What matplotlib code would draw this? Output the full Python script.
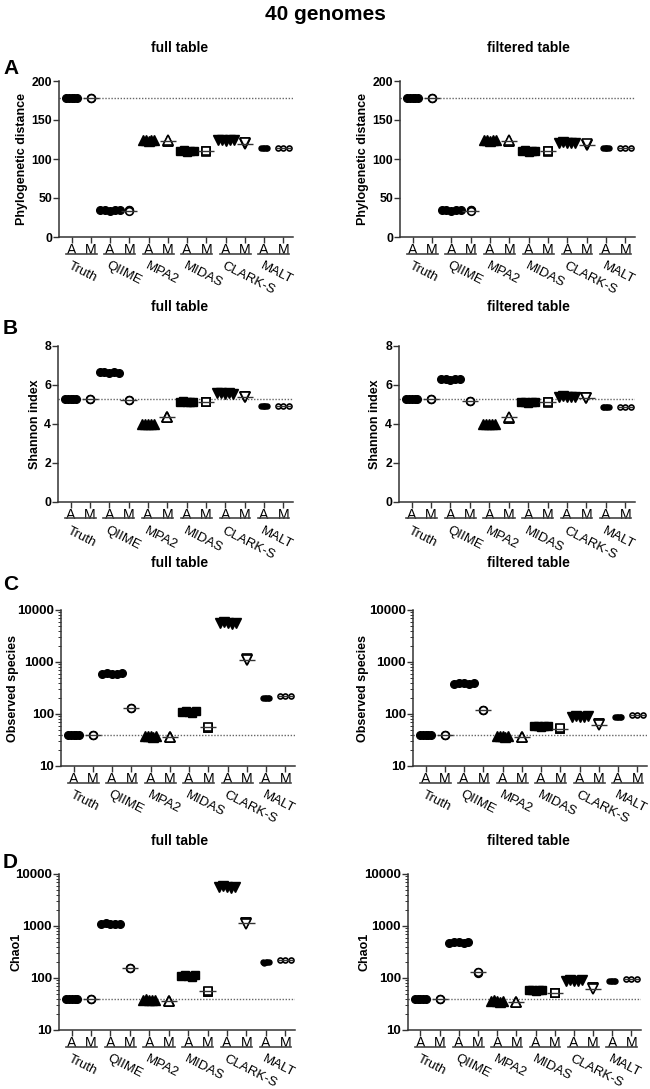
import numpy as np
import matplotlib
matplotlib.use("Agg")
import matplotlib.pyplot as plt
from matplotlib.transforms import ScaledTranslation
from matplotlib.ticker import FixedLocator, LogLocator, NullFormatter

plt.rcParams['font.family'] = ['Liberation Sans', 'DejaVu Sans']

groups = ["Truth", "QIIME", "MPA2", "MIDAS", "CLARK-S", "MALT"]
sub_labels = ["A", "M"]

# Phylogenetic distance (A = many samples, M = 3 samples)
pd_full_A = [[178, 178, 178, 178, 178], [34, 34, 33, 34, 34], [124, 125, 123, 124, 124],
             [110, 111, 109, 110, 110], [124, 125, 123, 124, 124], [114, 114, 114, 114, 114]]
pd_full_M = [[178, 178, 178], [34, 34, 33], [123, 123, 124], [110, 109, 110], [120, 119, 120], [114, 114, 114]]
pd_filt_A = [[178, 178, 178, 178, 178], [34, 34, 33, 34, 34], [124, 125, 123, 124, 124],
             [110, 111, 109, 110, 110], [121, 122, 120, 121, 121], [114, 114, 114, 114, 114]]
pd_filt_M = [[178, 178, 178], [34, 34, 33], [123, 123, 124], [110, 109, 110], [118, 118, 119], [114, 114, 114]]

# Shannon index
sh_full_A = [[5.3, 5.3, 5.3, 5.3, 5.3], [6.65, 6.68, 6.62, 6.66, 6.64], [3.99, 4.0, 3.98, 4.0, 3.99],
             [5.15, 5.16, 5.14, 5.15, 5.15], [5.57, 5.58, 5.55, 5.57, 5.56], [4.94, 4.94, 4.94, 4.94, 4.94]]
sh_full_M = [[5.3, 5.3, 5.3], [5.22, 5.22, 5.21], [4.35, 4.35, 4.36], [5.12, 5.11, 5.12], [5.4, 5.4, 5.41], [4.94, 4.94, 4.94]]
sh_filt_A = [[5.3, 5.3, 5.3, 5.3, 5.3], [6.3, 6.33, 6.28, 6.32, 6.3], [3.99, 4.0, 3.98, 4.0, 3.99],
             [5.11, 5.12, 5.1, 5.11, 5.11], [5.4, 5.42, 5.38, 5.41, 5.4], [4.88, 4.88, 4.88, 4.88, 4.88]]
sh_filt_M = [[5.3, 5.3, 5.3], [5.2, 5.2, 5.19], [4.33, 4.33, 4.34], [5.11, 5.1, 5.11], [5.33, 5.33, 5.34], [4.88, 4.88, 4.88]]

# Observed species
ob_full_A = [[40, 40, 40, 40, 40], [590, 620, 600, 580, 610], [37, 38, 37, 36, 37],
             [108, 115, 110, 105, 112], [5600, 5800, 5700, 5500, 5700], [202, 200, 204, 201, 203]]
ob_full_M = [[40, 40, 40], [132, 130, 133], [36, 36, 36], [55, 55, 56], [1100, 1120, 1090], [222, 220, 223]]
ob_filt_A = [[40, 40, 40, 40, 40], [385, 395, 390, 380, 392], [37, 38, 37, 36, 37],
             [58, 60, 57, 59, 58], [88, 90, 89, 87, 90], [87, 87, 87, 87, 87]]
ob_filt_M = [[40, 40, 40], [121, 120, 122], [36, 36, 36], [52, 52, 53], [63, 63, 62], [96, 96, 96]]

# Chao1
ch_full_A = [[40, 40, 40, 40, 40], [1080, 1120, 1100, 1090, 1110], [38, 39, 38, 37, 38],
             [107, 113, 110, 105, 112], [5600, 5800, 5700, 5500, 5700], [200, 198, 202, 199, 201]]
ch_full_M = [[40, 40, 40], [155, 153, 157], [36, 36, 36], [55, 55, 56], [1120, 1130, 1110], [220, 219, 221]]
ch_filt_A = [[40, 40, 40, 40, 40], [480, 500, 490, 470, 495], [36, 37, 36, 35, 36],
             [58, 60, 57, 59, 58], [88, 90, 89, 87, 90], [86, 86, 86, 86, 86]]
ch_filt_M = [[40, 40, 40], [128, 127, 129], [35, 35, 35], [51, 51, 52], [63, 63, 62], [95, 95, 95]]

W, H = 650, 1089
fig = plt.figure(figsize=(W / 100, H / 100), dpi=100)
dpi_tr = fig.dpi_scale_trans


def add_ax(left, top, right, bottom):
    return fig.add_axes([left / W, 1 - bottom / H, (right - left) / W, (bottom - top) / H])


markers = ['o', 'o', '^', 's', 'v', 'o']
msizes = [5.5, 5.5, 6.5, 6, 6.5, 3.6]
a_spread = [0.3, 0.5, 0.3, 0.35, 0.42, 0.15]
m_spread = [0, 0, 0, 0, 0, 0.27]


def panel(ax, A, M, ylabel, label_x, log=False, tick_fs=8.5):
    ref = np.mean(A[0])
    ax.axhline(ref, color='#666666', ls=(0, (1, 1.2)), lw=1, zorder=1)
    for i in range(len(groups)):
        xa, xm = 2 * i, 2 * i + 1
        va, vm = np.array(A[i], float), np.array(M[i], float)
        offs = np.linspace(-a_spread[i], a_spread[i], len(va))
        ax.hlines(va.mean(), xa - a_spread[i] - 0.1, xa + a_spread[i] + 0.1, color='#222222', lw=1, zorder=2)
        ax.plot(xa + offs, va, ls='none', marker=markers[i], ms=msizes[i],
                mfc='black', mec='black', zorder=3, clip_on=False)
        offm = np.linspace(-m_spread[i], m_spread[i], len(vm))
        ax.plot(xm + offm, vm, ls='none', marker=markers[i], ms=msizes[i],
                mfc='white', mec='black', mew=1.2, zorder=3, clip_on=False)
        ax.hlines(vm.mean(), xm - 0.42, xm + 0.42, color='#333333', lw=1, zorder=4)

    ax.set_xlim(-0.65, 11.5)
    if log:
        ax.set_yscale('log')
        ax.set_ylim(10, 10000)
        ax.yaxis.set_major_locator(FixedLocator([10, 100, 1000, 10000]))
        ax.set_yticklabels(["10", "100", "1000", "10000"])
        ax.yaxis.set_minor_locator(LogLocator(subs=np.arange(2, 10)))
        ax.yaxis.set_minor_formatter(NullFormatter())
    for s in ['top', 'right']:
        ax.spines[s].set_visible(False)
    for s in ['left', 'bottom']:
        ax.spines[s].set_linewidth(1.1)
        ax.spines[s].set_color('#333333')
    ax.tick_params(axis='both', which='major', direction='out', length=4, width=1, color='#333333')
    ax.tick_params(axis='y', which='minor', direction='out', length=2, width=0.7, color='#333333')
    ax.tick_params(axis='y', labelsize=tick_fs, pad=1)
    ax.set_ylabel(ylabel, fontsize=9, fontweight='bold')
    ax.yaxis.label.set_va('center')
    bb = ax.get_position()
    ax.yaxis.set_label_coords((label_x / W - bb.x0) / bb.width, 0.5)

    ax.set_xticks(range(2 * len(groups)))
    ax.set_xticklabels(sub_labels * len(groups), fontsize=10.2)
    ax.tick_params(axis='x', pad=0.5)
    line_tr = ax.get_xaxis_transform() + ScaledTranslation(0, -0.165, dpi_tr)
    text_tr = ax.get_xaxis_transform() + ScaledTranslation(0, -0.225, dpi_tr)
    for i, g in enumerate(groups):
        ax.plot([2 * i - 0.3, 2 * i + 1.3], [0, 0], color='#444444', lw=1.2,
                transform=line_tr, clip_on=False)
        ax.text(2 * i, 0, g, transform=text_tr, rotation=-27, rotation_mode='anchor',
                ha='left', va='top', fontsize=9.5)


rows = [
    (pd_full_A, pd_full_M, pd_filt_A, pd_filt_M, "Phylogenetic distance", False,
     (59, 81, 293, 237), (400, 81, 635, 237), (22, 363), 48, "A", 69),
    (sh_full_A, sh_full_M, sh_filt_A, sh_filt_M, "Shannon index", False,
     (58, 346, 293, 502), (399, 346, 635, 502), (35, 375), 307, "B", 329),
    (ob_full_A, ob_full_M, ob_filt_A, ob_filt_M, "Observed species", True,
     (61, 610, 295, 766), (413, 610, 647, 766), (13, 363), 563, "C", 585),
    (ch_full_A, ch_full_M, ch_filt_A, ch_filt_M, "Chao1", True,
     (59, 874, 295, 1030), (408, 874, 641, 1030), (17, 365), 841, "D", 863),
]

for fA, fM, tA, tM, ylab, log, rl, rr, lx, ty, letter, ly in rows:
    fs = 9.5 if log else 8.8
    ax1 = add_ax(*rl)
    panel(ax1, fA, fM, ylab, lx[0], log, fs)
    ax2 = add_ax(*rr)
    panel(ax2, tA, tM, ylab, lx[1], log, fs)
    if ylab == "Phylogenetic distance":
        for ax in (ax1, ax2):
            ax.set_ylim(0, 200)
            ax.set_yticks([0, 50, 100, 150, 200])
    elif ylab == "Shannon index":
        for ax in (ax1, ax2):
            ax.set_ylim(0, 8)
            ax.set_yticks([0, 2, 4, 6, 8])
    for ax in (ax1, ax2):
        for lab in ax.get_yticklabels():
            lab.set_fontweight('bold')
    fig.text(180 / W, 1 - ty / H, "full table", ha='center', va='center', fontsize=10, fontweight='bold')
    fig.text(528 / W, 1 - ty / H, "filtered table", ha='center', va='center', fontsize=10, fontweight='bold')
    fig.text(3 / W, 1 - ly / H, letter, ha='left', va='center', fontsize=15, fontweight='bold')

fig.text(0.5, 1 - 15 / H, "40 genomes", ha='center', va='center', fontsize=15, fontweight='bold')

fig.savefig("out.png", dpi=100)
